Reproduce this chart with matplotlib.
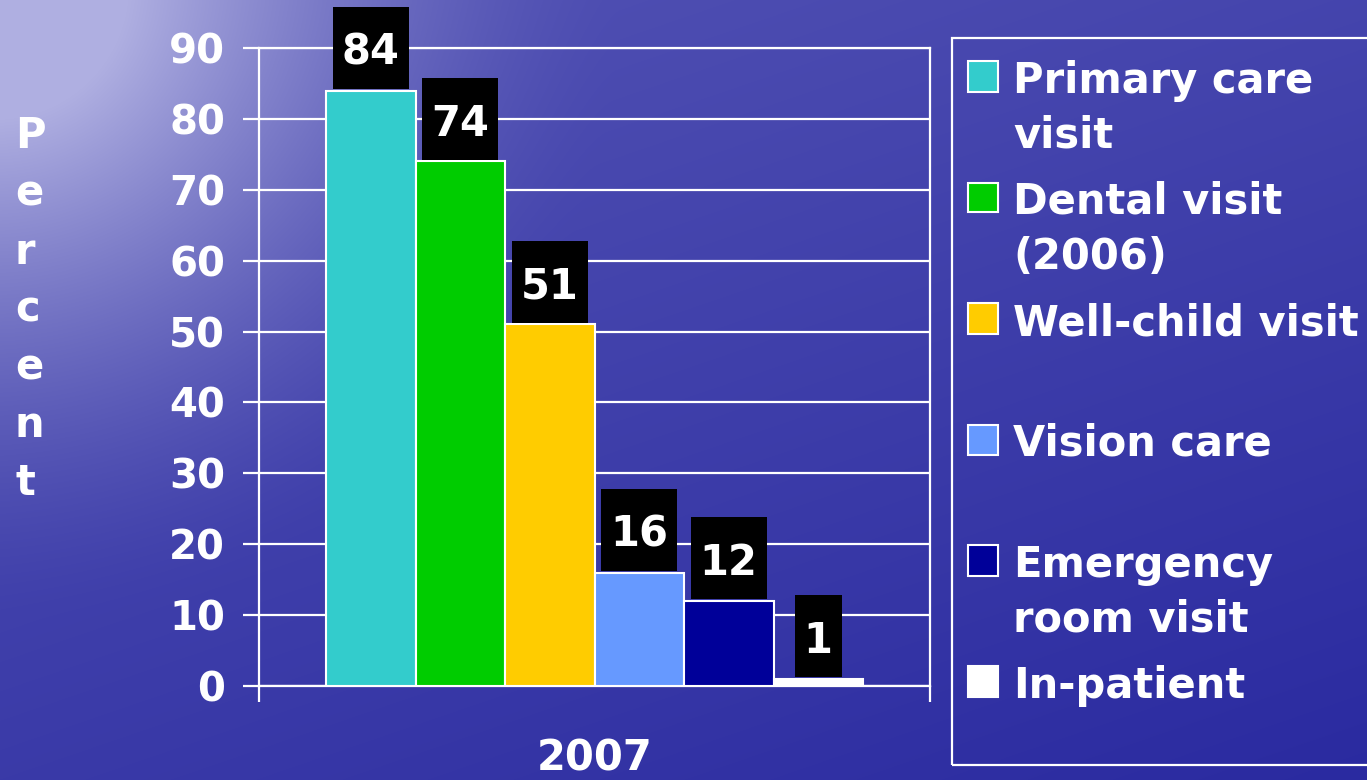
import numpy as np
import matplotlib.pyplot as plt
from matplotlib.patches import Rectangle

# ------------------------------------------------------------------
# Data
# ------------------------------------------------------------------
categories = ["Primary care\nvisit", "Dental visit\n(2006)", "Well-child visit",
              "Vision care", "Emergency\nroom visit", "In-patient"]
values = [84, 74, 51, 16, 12, 1]
bar_colors = ["#33CCCC", "#00CC00", "#FFCC00", "#6699FF", "#000099", "#FFFFFF"]
year_label = "2007"
y_ticks = [0, 10, 20, 30, 40, 50, 60, 70, 80, 90]
axis_title = "Percent"

plt.rcParams['font.family'] = 'DejaVu Sans'
plt.rcParams['font.weight'] = 'bold'

W, H = 1367, 780
fig = plt.figure(figsize=(W / 100, H / 100), dpi=100)


def fx(px):
    return px / W


def fy(py):
    return 1 - py / H


# ------------------------------------------------------------------
# Background: blue "water" gradient, lighter in the top-left corner
# ------------------------------------------------------------------
bg = fig.add_axes([0, 0, 1, 1], zorder=-10)
yy, xx = np.mgrid[0:H, 0:W]
f = np.clip(1 - np.sqrt((xx / 620.0) ** 2 + (yy / 620.0) ** 2), 0, 1) ** 1.6
g = np.clip(1 - yy / 780.0, 0, 1) * 0.2 + np.clip(1 - xx / 1367.0, 0, 1) * 0.12
t = np.clip(f + g, 0, 1)[..., None]
dark = np.array([42, 42, 160]) / 255.0
light = np.array([175, 175, 225]) / 255.0
img = dark + (light - dark) * t
bg.imshow(img, aspect='auto', extent=[0, W, H, 0], interpolation='bilinear')
bg.set_xlim(0, W)
bg.set_ylim(H, 0)
bg.axis('off')

# ------------------------------------------------------------------
# Main bar chart
# ------------------------------------------------------------------
ax = fig.add_axes([fx(259), fy(686), fx(930) - fx(259), fy(48) - fy(686)])
ax.patch.set_visible(False)

x = np.arange(len(values))
ax.bar(x, values, width=1.0, color=bar_colors, edgecolor='white',
       linewidth=1.5, zorder=3)

px_per_unit = 89.5
edge = len(values) - 0.5 + 67 / px_per_unit
ax.set_xlim(-0.5 - 67 / px_per_unit, edge)
ax.set_ylim(0, 90)

ax.set_yticks(y_ticks)
ax.set_yticklabels([str(v) for v in y_ticks])
ax.yaxis.grid(True, color='white', linewidth=1.6)
ax.set_axisbelow(True)
ax.tick_params(axis='y', colors='white', labelsize=29, length=11.5,
               width=1.6, pad=13, direction='out')

# category axis: single label, boundary ticks at both ends
ax.set_xticks([(len(values) - 1) / 2])
ax.set_xticklabels([year_label])
ax.set_xticks([ax.get_xlim()[0], ax.get_xlim()[1]], minor=True)
ax.tick_params(axis='x', which='major', length=0, colors='white',
               labelsize=30, pad=37)
ax.tick_params(axis='x', which='minor', length=11.5, width=1.6,
               colors='white', direction='out')
for s in ax.spines.values():
    s.set_color('white')
    s.set_linewidth(1.6)

# value labels in black boxes above bars
units_per_px = 90 / 638.0
box_h = 82 * units_per_px
gap = 1.5 * units_per_px
renderer = fig.canvas.get_renderer()
for xi, v in zip(x, values):
    txt = ax.annotate(str(v), (xi, v + gap + box_h / 2), xytext=(0, -12),
                      textcoords='offset points', ha='center', va='baseline',
                      color='white', fontsize=30, fontweight='bold',
                      zorder=6, annotation_clip=False)
    bb = txt.get_window_extent(renderer)
    w = (bb.width + 18) / px_per_unit
    ax.add_patch(Rectangle((xi - w / 2, v + gap), w, box_h, facecolor='black',
                           edgecolor='none', zorder=5, clip_on=False))

# vertical "Percent" title, one letter per line
for i, ch in enumerate(axis_title):
    fig.text(fx(15), fy(148 + 57.8 * i), ch, color='white', fontsize=30,
             fontweight='bold', ha='left', va='baseline')

# ------------------------------------------------------------------
# Legend box (drawn by hand to keep the slide's uneven wrapping)
# ------------------------------------------------------------------
fig.patches.append(Rectangle((fx(952), fy(765)), fx(1420) - fx(952),
                             fy(38) - fy(765), transform=fig.transFigure,
                             facecolor='none', edgecolor='white', linewidth=1.6))
for i, (lab, col) in enumerate(zip(categories, bar_colors)):
    yc = 76.5 + 121 * i
    fig.patches.append(Rectangle((fx(968), fy(yc + 15)), fx(998) - fx(968),
                                 fy(yc - 15) - fy(yc + 15),
                                 transform=fig.transFigure, facecolor=col,
                                 edgecolor='white', linewidth=1.5))
    for k, line in enumerate(lab.split("\n")):
        fig.text(fx(1013), fy(yc + 16.5 + 55 * k), line, color='white',
                 fontsize=30, fontweight='bold', ha='left', va='baseline')

fig.savefig("out.png", dpi=100)
